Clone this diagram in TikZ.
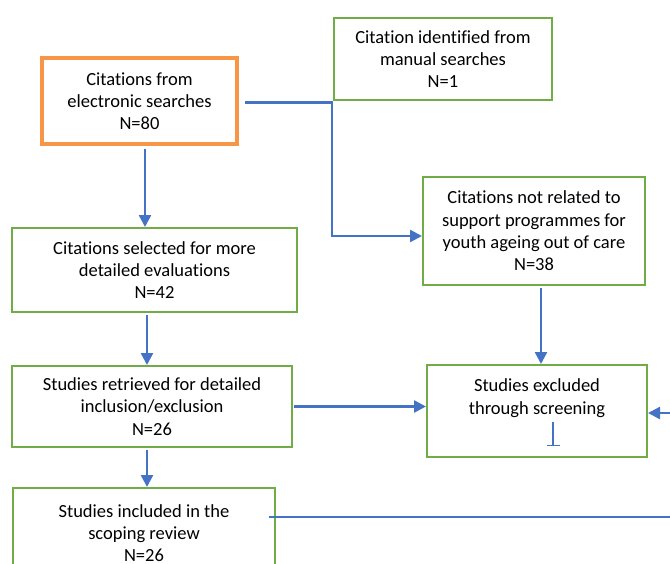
\documentclass[tikz,border=0pt]{standalone}
\usepackage{fontspec}
\setmainfont{Carlito}[Ligatures=NoCommon]
\usepackage{tikz}
\usetikzlibrary{arrows.meta,calc}

\definecolor{boxgreen}{RGB}{112,173,71}
\definecolor{boxorange}{RGB}{247,150,70}
\definecolor{lineblue}{RGB}{68,114,196}

\begin{document}
\begin{tikzpicture}[x=1pt,y=-1pt,
    box/.style={draw=boxgreen, line width=2pt, fill=white, align=center,
      inner sep=0pt, font=\fontsize{18.5}{22.3}\selectfont},
    srcbox/.style={box, draw=boxorange, line width=4pt},
    arr/.style={draw=lineblue, line width=2.5pt,
      -{Triangle[length=12pt,width=12pt]}},
    plain/.style={draw=lineblue, line width=2.5pt}]
    \useasboundingbox (0,0) rectangle (670,563);
    \clip (0,0) rectangle (670,563);
    \node[srcbox, minimum width=195pt, minimum height=86pt] (elec)   at (139.5,101) {Citations from\\electronic searches\\N=80}; %
    \node[box, minimum width=218pt, minimum height=82pt]    (manual) at (443,59)    {Citation identified from\\manual searches\\N=1};
    \node[box, minimum width=285pt, minimum height=84pt]    (sel)    at (154.5,270) {Citations selected for more\\detailed evaluations\\N=42};
    \node[box, minimum width=222pt, minimum height=108pt]   (notrel) at (534,231)   {Citations not related to\\support programmes for\\youth ageing out of care\\N=38};
    \node[box, minimum width=280pt, minimum height=81pt]    (ret)    at (152,406.5) {Studies retrieved for detailed\\inclusion/exclusion\\N=26};
    \node[box, minimum width=220pt, minimum height=92pt]    (excl)   at (537,411)   {Studies excluded\\through screening\\\strut};
    \node[box, minimum width=262pt, minimum height=90pt]    (incl)   at (144,533)   {Studies included in the\\scoping review\\N=26};
    \coordinate (a1) at ($(elec.south)+(5.5,3)$);
    \coordinate (a2) at ($(sel.south)+(-7.5,2)$);
    \coordinate (a3) at ($(ret.south)+(-5,2)$);
    \coordinate (a4) at ($(notrel.south)+(7,2)$);
    \coordinate (bend1) at (332,102.5);
    \coordinate (bend2) at (332,236);
    \coordinate (offright) at (672,413);
    \coordinate (offbottom) at (672,517);
    \coordinate (teetop) at (553,422);
    \coordinate (teebot) at (553,446);
    \draw[arr] (a1) -- (a1 |- sel.north);
    \draw[arr] (a2) -- (a2 |- ret.north);
    \draw[arr] (a3) -- (a3 |- incl.north);
    \draw[arr] (a4) -- (a4 |- excl.north);
    \draw[arr] ($(ret.east)+(1,0)$) -- (ret.east -| excl.west);
    \draw[arr] ($(elec.east |- bend1)+(6,0)$) -- (bend1) -- (bend2) -- (notrel.west |- bend2);
    \draw[arr] (offright) -- (offright -| excl.east);
    \draw[plain] ($(incl.east |- offbottom)+(-7,0)$) -- (offbottom);
    \draw[draw=lineblue, line width=1.5pt, -{Bar[width=13pt]}] (teetop) -- (teebot);
\end{tikzpicture}
\end{document}
